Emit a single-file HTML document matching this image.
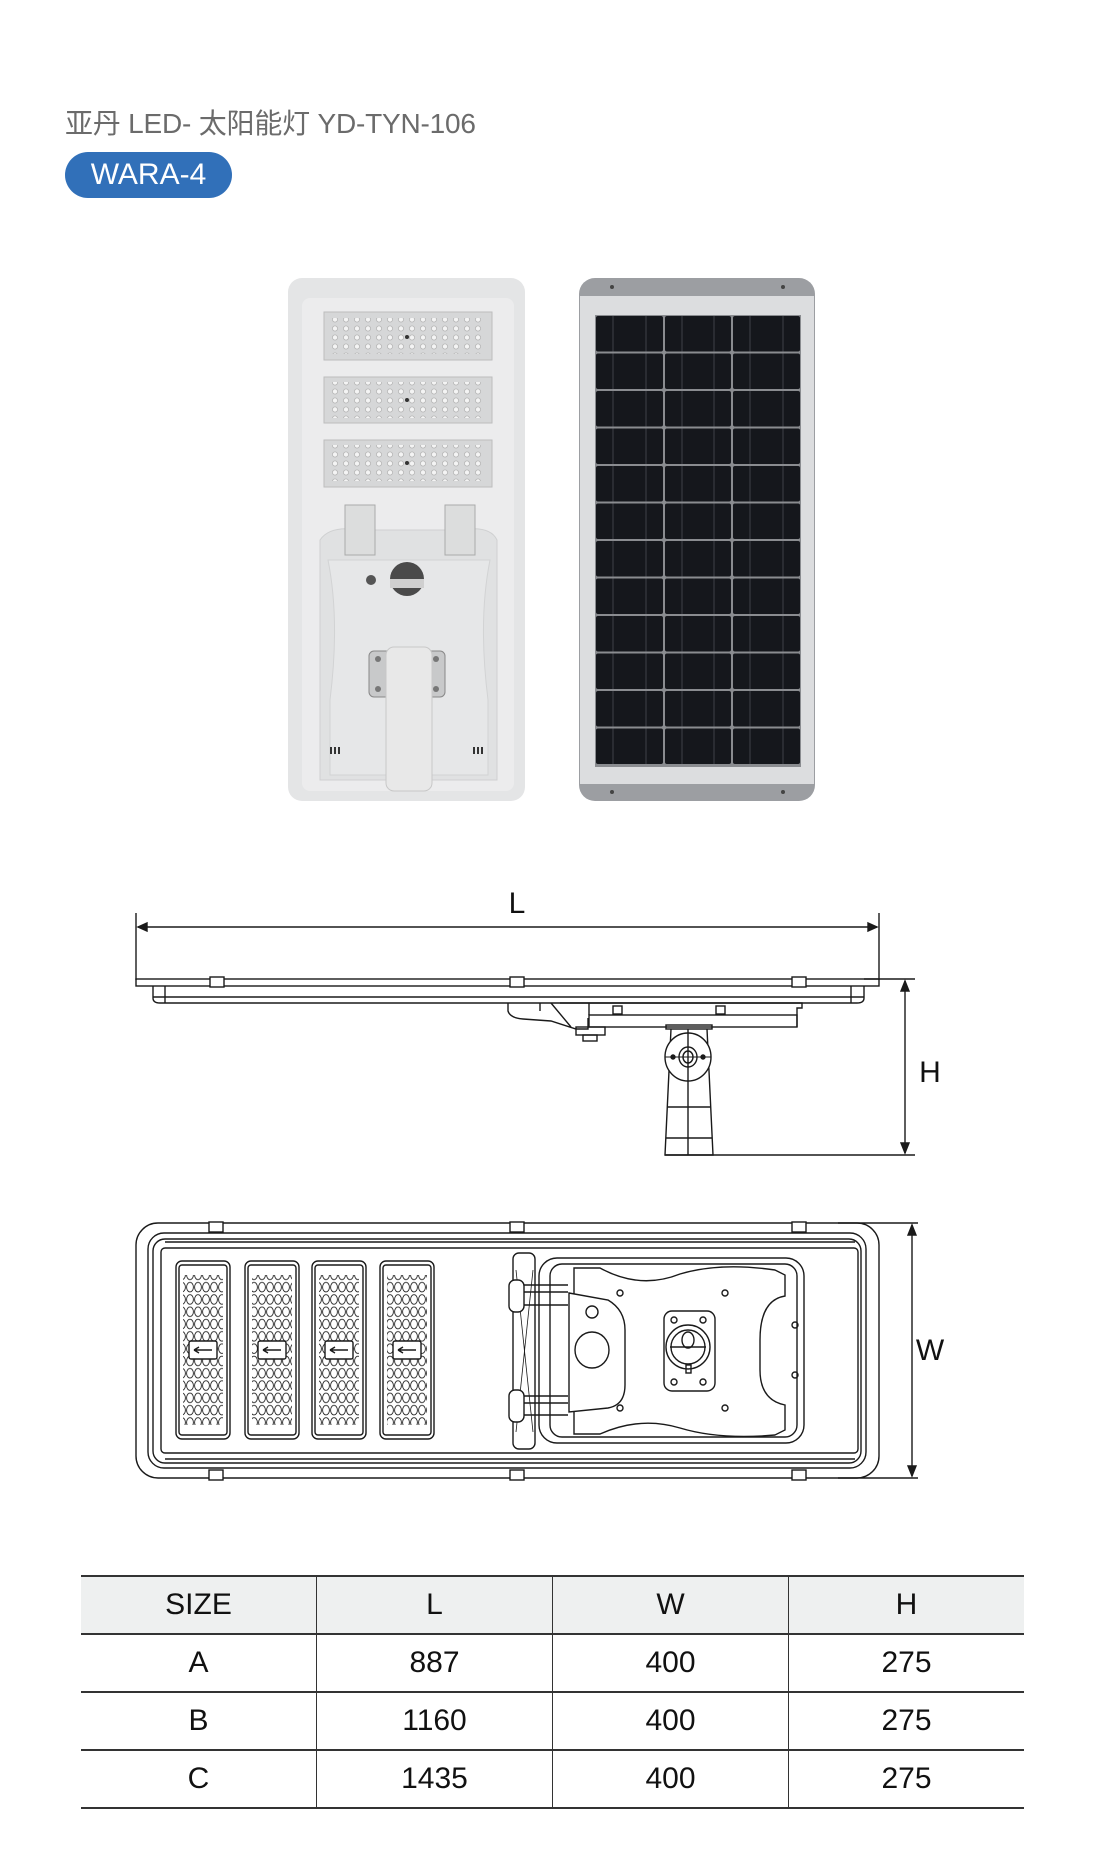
<!DOCTYPE html>
<html><head><meta charset="utf-8">
<style>
html,body{margin:0;padding:0;background:#fff;}
body{width:1102px;height:1868px;position:relative;overflow:hidden;font-family:"Liberation Sans","Noto Sans CJK SC",sans-serif;}
.title{position:absolute;left:65px;top:102px;font-size:28px;color:#6b6b6b;white-space:nowrap;letter-spacing:-0.2px;}
.badge{position:absolute;left:65px;top:152px;width:167px;height:46px;border-radius:23px;background:#3170b9;color:#fff;font-size:30px;line-height:46px;text-align:center;}
svg{position:absolute;left:0;top:0;}
table{position:absolute;left:81px;top:1575px;width:940px;border-collapse:collapse;table-layout:fixed;}
td{width:235px;height:56px;text-align:center;font-size:30px;color:#111;border-left:1px solid #333;border-top:2.5px solid #333;padding:0;}
td:first-child{border-left:none;}
tr:last-child td{border-bottom:2.5px solid #333;}
tr.h td{background:#eef0f0;}
</style></head><body>
<div class="title">亚丹 LED- 太阳能灯 YD-TYN-106</div>
<div class="badge">WARA-4</div>

<svg width="1102" height="1868" viewBox="0 0 1102 1868">
<defs>
<pattern id="ledp" width="11" height="9" patternUnits="userSpaceOnUse"><circle cx="5" cy="4.5" r="2.6" fill="#f4f4f4" stroke="#b5b5b5" stroke-width="0.8"/></pattern>
<pattern id="ledt" width="8" height="12.3" patternUnits="userSpaceOnUse" x="2" y="2"><ellipse cx="4" cy="6" rx="3.4" ry="4.8" fill="none" stroke="#222" stroke-width="0.9"/></pattern>
</defs>

<!-- Lamp photo -->
<rect x="288" y="278" width="237" height="523" rx="14" fill="#e4e5e6"/>
<rect x="302" y="298" width="212" height="493" rx="8" fill="#ececed"/>
<g id="strips">
<rect x="324" y="312" width="168" height="48" fill="#d6d7d8" stroke="#bdbdbd"/>
<rect x="330" y="318" width="156" height="36" fill="url(#ledp)"/>
<rect x="324" y="377" width="168" height="46" fill="#d6d7d8" stroke="#bdbdbd"/>
<rect x="330" y="382" width="156" height="36" fill="url(#ledp)"/>
<rect x="324" y="440" width="168" height="47" fill="#d6d7d8" stroke="#bdbdbd"/>
<rect x="330" y="445" width="156" height="36" fill="url(#ledp)"/>
<circle cx="407" cy="337" r="2" fill="#333"/><circle cx="407" cy="400" r="2" fill="#333"/><circle cx="407" cy="463" r="2" fill="#333"/>
</g>
<path d="M320 540 Q330 525 360 530 L460 530 Q490 525 497 540 L497 780 L320 780 Z" fill="#e0e1e2" stroke="#cfd0d1"/>
<path d="M328 560 Q340 620 330 700 L330 775 L488 775 L488 700 Q478 620 490 560 Z" fill="#e6e7e8" stroke="#d2d3d4"/>
<path d="M345 505 h30 v50 h-30z M445 505 h30 v50 h-30z" fill="#dcdddd" stroke="#aaa"/>
<circle cx="407" cy="579" r="17" fill="#4a4a4a"/><rect x="390" y="579" width="34" height="9" fill="#cfcfcf"/>
<circle cx="371" cy="580" r="5" fill="#555"/>
<rect x="369" y="651" width="76" height="46" rx="5" fill="#c8c9ca" stroke="#888"/>
<circle cx="378" cy="659" r="3" fill="#777"/><circle cx="436" cy="659" r="3" fill="#777"/><circle cx="378" cy="689" r="3" fill="#777"/><circle cx="436" cy="689" r="3" fill="#777"/>
<rect x="386" y="647" width="46" height="144" rx="8" fill="#e8e8e8" stroke="#c8c8c8"/>
<rect x="330" y="747" width="2" height="7" fill="#333"/><rect x="334" y="747" width="2" height="7" fill="#333"/><rect x="338" y="747" width="2" height="7" fill="#333"/>
<rect x="473" y="747" width="2" height="7" fill="#333"/><rect x="477" y="747" width="2" height="7" fill="#333"/><rect x="481" y="747" width="2" height="7" fill="#333"/>

<!-- Solar panel -->
<rect x="579" y="278" width="236" height="523" rx="16" fill="#9c9ea2"/>
<rect x="580" y="296" width="234" height="488" fill="#dcdddf"/>
<g id="cells"></g>
<circle cx="612" cy="287" r="2" fill="#444"/><circle cx="783" cy="287" r="2" fill="#444"/><circle cx="612" cy="792" r="2" fill="#444"/><circle cx="783" cy="792" r="2" fill="#444"/>

<!-- Side view -->
<g stroke="#1a1a1a" stroke-width="1.4" fill="none">
<line x1="136" y1="913" x2="136" y2="980"/><line x1="879" y1="913" x2="879" y2="980"/>
<line x1="138" y1="927" x2="877" y2="927"/>
<path d="M138 927 l9 -4 v8z M877 927 l-9 -4 v8z" fill="#1a1a1a"/>
<rect x="136" y="979" width="743" height="7"/>
<rect x="210" y="977" width="14" height="10" fill="#fff"/><rect x="510" y="977" width="14" height="10" fill="#fff"/><rect x="792" y="977" width="14" height="10" fill="#fff"/>
<path d="M153 986 V998 Q153 1003 160 1003 H857 Q864 1003 864 998 V986"/>
<line x1="153" y1="997" x2="864" y2="997"/><line x1="165" y1="986" x2="165" y2="1003"/><line x1="851" y1="986" x2="851" y2="1003"/>
<path d="M508 1003 v8 q2 7 15 8 l28 2 l25 8 h12 v-11 M540 1003 v8 M551 1003 l20 24"/>
<rect x="589" y="1015" width="208" height="12"/>
<path d="M560 1003 H802 V1008 H797 V1027 M589 1015 V1003"/>
<rect x="613" y="1006" width="9" height="8"/><rect x="716" y="1006" width="9" height="8"/>
<rect x="576" y="1027" width="29" height="8"/><rect x="583" y="1035" width="14" height="6"/>
<rect x="666" y="1025" width="46" height="4"/>
<path d="M671 1029 L665 1155 H713 L707 1029"/>
<line x1="688" y1="1029" x2="688" y2="1155"/>
<line x1="667" y1="1107" x2="710" y2="1107"/><line x1="666" y1="1138" x2="712" y2="1138"/>
<ellipse cx="688" cy="1057" rx="23" ry="24" fill="#fff"/>
<line x1="688" y1="1033" x2="688" y2="1081"/>
<ellipse cx="688" cy="1057" rx="9" ry="10"/><ellipse cx="688" cy="1057" rx="5" ry="6"/>
<line x1="665" y1="1057" x2="711" y2="1057" stroke-width="1"/>
<circle cx="673" cy="1057" r="2" fill="#1a1a1a"/><circle cx="703" cy="1057" r="2" fill="#1a1a1a"/>
<line x1="864" y1="979" x2="915" y2="979"/><line x1="665" y1="1155" x2="915" y2="1155"/>
<line x1="905" y1="981" x2="905" y2="1153"/>
<path d="M905 981 l-4 10 h8z M905 1153 l-4 -10 h8z" fill="#1a1a1a"/>
</g>
<text x="517" y="913" font-size="30" text-anchor="middle" font-family="Liberation Sans" fill="#111">L</text>
<text x="930" y="1082" font-size="30" text-anchor="middle" font-family="Liberation Sans" fill="#111">H</text>

<!-- Top view -->
<g stroke="#1a1a1a" stroke-width="1.4" fill="none">
<rect x="136" y="1223" width="743" height="255" rx="22"/>
<rect x="148" y="1233" width="718" height="235" rx="16"/>
<rect x="153" y="1239" width="708" height="224" rx="12"/>
<rect x="161" y="1248" width="697" height="205" rx="4"/>
<line x1="165" y1="1242" x2="855" y2="1242"/><line x1="165" y1="1459" x2="855" y2="1459"/>
<g fill="#fff">
<rect x="209" y="1222" width="14" height="10"/><rect x="510" y="1222" width="14" height="10"/><rect x="792" y="1222" width="14" height="10"/>
<rect x="209" y="1470" width="14" height="10"/><rect x="510" y="1470" width="14" height="10"/><rect x="792" y="1470" width="14" height="10"/>
</g>
<g id="mods"></g>
<rect x="513" y="1253" width="22" height="196" rx="6"/>
<line x1="516" y1="1270" x2="533" y2="1432" stroke-width="0.8"/><line x1="533" y1="1270" x2="516" y2="1432" stroke-width="0.8"/>
<rect x="539" y="1258" width="265" height="185" rx="18"/>
<rect x="550" y="1264" width="247" height="173" rx="12"/>
<path d="M574 1268 H600 Q640 1290 680 1274 Q720 1262 775 1270 L785 1275 V1296 Q760 1300 760 1340 V1370 Q760 1400 785 1405 V1430 L775 1435 Q720 1440 680 1428 Q640 1416 600 1434 H574 Z" fill="#fff"/>
<path d="M569 1293 L608 1300 Q625 1310 625 1330 V1385 Q625 1405 608 1408 L569 1412 Z" fill="#fff"/>
<circle cx="592" cy="1312" r="6"/><ellipse cx="592" cy="1350" rx="17" ry="18"/>
<rect x="664" y="1311" width="51" height="80" rx="8"/>
<circle cx="688" cy="1347" r="22"/><circle cx="688" cy="1347" r="17"/><ellipse cx="688" cy="1340" rx="6" ry="8"/>
<line x1="670" y1="1347" x2="706" y2="1347"/><rect x="686" y="1365" width="5" height="8"/>
<circle cx="674" cy="1320" r="3"/><circle cx="703" cy="1320" r="3"/><circle cx="674" cy="1382" r="3"/><circle cx="703" cy="1382" r="3"/>
<rect x="509" y="1280" width="15" height="32" rx="6" fill="#fff"/><rect x="509" y="1390" width="15" height="32" rx="6" fill="#fff"/>
<path d="M524 1285 H568 M524 1292 H568 M524 1305 H568 M524 1396 H568 M524 1403 H568 M524 1415 H568"/>
<circle cx="620" cy="1293" r="3"/><circle cx="725" cy="1293" r="3"/><circle cx="620" cy="1408" r="3"/><circle cx="725" cy="1408" r="3"/>
<circle cx="795" cy="1325" r="3"/><circle cx="795" cy="1375" r="3"/>
<line x1="838" y1="1223" x2="918" y2="1223"/><line x1="838" y1="1478" x2="918" y2="1478"/>
<line x1="912" y1="1225" x2="912" y2="1476"/>
<path d="M912 1225 l-4 10 h8z M912 1476 l-4 -10 h8z" fill="#1a1a1a"/>
</g>
<text x="930" y="1360" font-size="30" text-anchor="middle" font-family="Liberation Sans" fill="#111">W</text>
</svg>

<table>
<tr class="h"><td>SIZE</td><td>L</td><td>W</td><td>H</td></tr>
<tr><td>A</td><td>887</td><td>400</td><td>275</td></tr>
<tr><td>B</td><td>1160</td><td>400</td><td>275</td></tr>
<tr><td>C</td><td>1435</td><td>400</td><td>275</td></tr>
</table>

<script>
var NS="http://www.w3.org/2000/svg";
function el(p,t,a){var e=document.createElementNS(NS,t);for(var k in a)e.setAttribute(k,a[k]);p.appendChild(e);return e;}
var c=document.getElementById("cells");
el(c,"rect",{x:595,y:315,width:206,height:452,fill:"#8a8c90"});
var cols=[[596,663],[665,731],[733,800]];
for(var r=0;r<12;r++){var y=316+r*37.5;
 for(var i=0;i<3;i++){var x0=cols[i][0],x1=cols[i][1];
  el(c,"rect",{x:x0,y:y,width:x1-x0,height:35.5,fill:"#15171c",rx:2});
  el(c,"line",{x1:x0+17,y1:y,x2:x0+17,y2:y+35.5,stroke:"#4a4d55","stroke-width":0.8});
  el(c,"line",{x1:x1-17,y1:y,x2:x1-17,y2:y+35.5,stroke:"#4a4d55","stroke-width":0.8});
 }}
var m=document.getElementById("mods");
[176,245,312,380].forEach(function(x){
 el(m,"rect",{x:x,y:1261,width:54,height:178,rx:6,fill:"#fff"});
 el(m,"rect",{x:x+3,y:1265,width:48,height:170,rx:3});
 el(m,"rect",{x:x+7,y:1275,width:40,height:150,fill:"url(#ledt)",stroke:"none"});
 el(m,"rect",{x:x+13,y:1341,width:28,height:18,fill:"#fff",rx:2});
 el(m,"path",{d:"M"+(x+18)+" 1350 h18 M"+(x+18)+" 1350 l5 -3 M"+(x+18)+" 1350 l5 3"});
});
</script>
</body></html>
